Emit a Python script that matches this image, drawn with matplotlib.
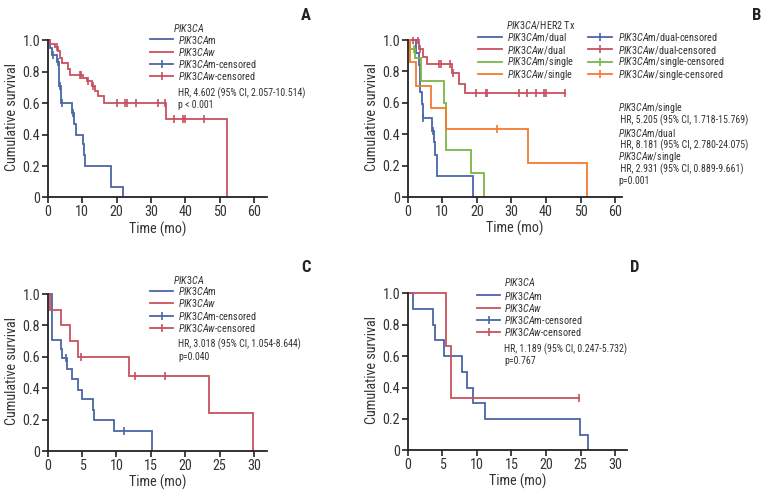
import matplotlib
matplotlib.use("Agg")
import matplotlib.pyplot as plt
from matplotlib.lines import Line2D
import numpy as np

FONT = "Roboto Condensed"
plt.rcParams["font.family"] = [FONT, "DejaVu Sans"]
plt.rcParams["mathtext.fontset"] = "custom"
plt.rcParams["mathtext.rm"] = FONT
plt.rcParams["mathtext.it"] = FONT + ":italic"

BLUE = "#4a66a8"
RED = "#c8505f"
GREEN = "#7ab648"
ORANGE = "#f47a30"
INK = "#333333"

# ---- data: event times (mo), survival after each event, censor times ----
# Panel A
a_m_t = [0.6, 1.2, 2.6, 3.4, 3.9, 7.0, 7.7, 8.2, 10.3, 10.6, 10.9, 18.3, 22.0]
a_m_s = [0.955, 0.91, 0.86, 0.71, 0.60, 0.54, 0.47, 0.40, 0.34, 0.27, 0.20, 0.07, 0.0]
a_m_c = [1.5, 3.0, 3.6, 4.1, 7.3]
a_w_t = [0.7, 2.0, 3.0, 3.5, 4.2, 6.0, 6.6, 10.3, 11.5, 12.8, 13.6, 14.5, 16.3, 34.3, 52.0]
a_w_s = [0.98, 0.96, 0.93, 0.89, 0.855, 0.82, 0.78, 0.76, 0.74, 0.71, 0.68, 0.645, 0.605, 0.50, 0.0]
a_w_c = [2.6, 9.3, 9.7, 11.8, 13.2, 20.0, 22.5, 22.9, 25.7, 32.0, 34.2, 36.8, 39.4, 39.9, 45.5]

# Panel B
b_md_t = [2.5, 3.4, 3.7, 4.0, 4.3, 7.0, 7.5, 8.0, 8.5, 18.9]
b_md_s = [0.92, 0.84, 0.67, 0.59, 0.505, 0.42, 0.35, 0.27, 0.135, 0.0]
b_md_c = [4.5, 7.4]
b_wd_t = [3.3, 4.5, 5.5, 12.7, 14.7, 16.7]
b_wd_s = [0.94, 0.89, 0.85, 0.79, 0.72, 0.66]
b_wd_c = [1.5, 3.1, 3.6, 9.2, 9.5, 12.2, 13.2, 19.8, 22.6, 23.0, 32.2, 34.4, 37.0, 39.4, 39.9, 45.5]
b_ms_t = [0.6, 2.1, 3.9, 10.6, 11.0, 18.4, 22.0]
b_ms_s = [0.94, 0.885, 0.74, 0.60, 0.30, 0.15, 0.0]
b_ms_c = [1.9]
b_ws_t = [0.7, 2.5, 6.6, 11.0, 34.7, 52.0]
b_ws_s = [0.86, 0.71, 0.57, 0.43, 0.215, 0.0]
b_ws_c = [25.8]

# Panel C
c_m_t = [0.6, 2.0, 2.1, 2.8, 3.6, 4.4, 5.0, 6.6, 6.8, 9.6, 15.2]
c_m_s = [0.71, 0.65, 0.59, 0.52, 0.46, 0.39, 0.33, 0.26, 0.195, 0.13, 0.0]
c_m_c = [2.6, 11.1]
c_w_t = [0.4, 2.0, 3.2, 4.4, 11.8, 23.5, 29.8]
c_w_s = [0.90, 0.80, 0.70, 0.60, 0.48, 0.24, 0.0]
c_w_c = [4.8, 12.7, 17.0]

# Panel D
d_m_t = [0.7, 3.7, 3.9, 5.2, 7.9, 8.6, 9.5, 11.2, 24.9, 26.1]
d_m_s = [0.9, 0.8, 0.7, 0.6, 0.5, 0.4, 0.3, 0.2, 0.1, 0.0]
d_m_c = []
d_w_t = [5.6, 6.3]
d_w_s = [0.667, 0.333]
d_w_c = [24.8]

P = r"$\it{PIK3CA}$"
W_ = r"$\it{w}$"
labels2 = [P + "m", P + W_, P + "m-censored", P + W_ + "-censored"]
labels_b1 = [P + "m/dual", P + W_ + "/dual", P + "m/single", P + W_ + "/single"]
labels_b2 = [P + "m/dual-censored", P + W_ + "/dual-censored",
             P + "m/single-censored", P + W_ + "/single-censored"]
stats_a = ["HR, 4.602 (95% CI, 2.057-10.514)", "p < 0.001"]
stats_b = [P + "m/single", " HR, 5.205 (95% CI, 1.718-15.769)",
           P + "m/dual", " HR, 8.181 (95% CI, 2.780-24.075)",
           P + W_ + "/single", " HR, 2.931 (95% CI, 0.889-9.661)", "p=0.001"]
stats_c = ["HR, 3.018 (95% CI, 1.054-8.644)", "p=0.040"]
stats_d = ["HR, 1.189 (95% CI, 0.247-5.732)", "p=0.767"]

W, H = 771, 494
LW = 1.3
FS_AX = 10.2
FS_LEG = 7.4
FS_STAT = 7.1


def fx(x):
    return x / W


def fy(y):
    return 1 - y / H


def km(ax, t, s, c, color):
    end = t[-1] if s[-1] == 0 else max(c + t)
    xs = np.array([0.0] + list(t) + [end])
    ys = np.array([1.0] + list(s) + [s[-1]])
    ax.plot(xs, ys, drawstyle="steps-post", color=color, lw=LW, solid_joinstyle="miter")
    if c:
        cx = np.array(c)
        idx = np.searchsorted(np.array(t), cx, side="right")
        cy = np.array([1.0] + list(s))[idx]
        ax.plot(cx, cy, ls="none", marker="|", ms=6, mew=1.2, color=color)


def style(ax, xmax, xticks):
    ax.set_xlim(0, xmax)
    ax.set_ylim(0, 1.02)
    ax.set_xticks(xticks)
    ax.set_yticks([0, 0.2, 0.4, 0.6, 0.8, 1.0])
    ax.set_yticklabels(["0", "0.2", "0.4", "0.6", "0.8", "1.0"])
    for sp in ("top", "right"):
        ax.spines[sp].set_visible(False)
    for sp in ("left", "bottom"):
        ax.spines[sp].set_color("#222222")
        ax.spines[sp].set_linewidth(1.3)
    ax.spines["left"].set_bounds(0, 1.0)
    ax.tick_params(direction="out", length=4, width=1.2, color="#222222",
                   labelsize=FS_AX, labelcolor=INK, pad=1.5)
    ax.set_xlabel("Time (mo)", fontsize=FS_AX, color=INK, labelpad=1.5)
    ax.set_ylabel("Cumulative survival", fontsize=FS_AX, color=INK, labelpad=2.5)


fig = plt.figure(figsize=(7.71, 4.94), dpi=100)


def add_axes(x0, x1, y0):
    # x0/x1 = pixel span of x axis, y0 = pixel row of survival 0
    h = 157 * 1.02
    return fig.add_axes([x0 / W, (H - y0) / H, (x1 - x0) / W, h / H])


def legend(x0, x1, xt, rows_y, labels, colors, censored):
    for y, lab, col, cen in zip(rows_y, labels, colors, censored):
        xm = (x0 + x1) / 2
        ln = Line2D([fx(x0), fx(xm), fx(x1)], [fy(y)] * 3, color=col, lw=LW,
                    transform=fig.transFigure)
        if cen:
            ln.set_marker("|")
            ln.set_markersize(6)
            ln.set_markeredgewidth(1.2)
            ln.set_markevery([1])
        fig.add_artist(ln)
        fig.text(fx(xt), fy(y), lab, fontsize=FS_LEG, color=INK, va="center", ha="left")


def lines(x, y0, rows, pitch):
    for i, r in enumerate(rows):
        fig.text(fx(x), fy(y0 + i * pitch), r, fontsize=FS_STAT, color=INK,
                 va="center", ha="left")


ax_a = add_axes(47.7, 267, 197.5)
ax_b = add_axes(407.7, 622, 197.0)
ax_c = add_axes(47.7, 267, 451.0)
ax_d = add_axes(407.7, 627, 450.3)

km(ax_a, a_m_t, a_m_s, a_m_c, BLUE)
km(ax_a, a_w_t, a_w_s, a_w_c, RED)
style(ax_a, 63.7, [0, 10, 20, 30, 40, 50, 60])

km(ax_b, b_md_t, b_md_s, b_md_c, BLUE)
km(ax_b, b_wd_t, b_wd_s, b_wd_c, RED)
km(ax_b, b_ms_t, b_ms_s, b_ms_c, GREEN)
km(ax_b, b_ws_t, b_ws_s, b_ws_c, ORANGE)
style(ax_b, 62.0, [0, 10, 20, 30, 40, 50, 60])

km(ax_c, c_m_t, c_m_s, c_m_c, BLUE)
km(ax_c, c_w_t, c_w_s, c_w_c, RED)
style(ax_c, 31.9, [0, 5, 10, 15, 20, 25, 30])

km(ax_d, d_m_t, d_m_s, d_m_c, BLUE)
km(ax_d, d_w_t, d_w_s, d_w_c, RED)
style(ax_d, 31.7, [0, 5, 10, 15, 20, 25, 30])

cols2 = [BLUE, RED, BLUE, RED]
cen2 = [False, False, True, True]

# Panel A legend and stats
fig.text(fx(173), fy(28), P, fontsize=FS_LEG, color=INK, va="center", ha="left")
legend(150, 173, 178, [39.5, 51.8, 64.1, 76.4], labels2, cols2, cen2)
lines(178, 93, stats_a, 12.5)

# Panel B legend and stats
fig.text(fx(506), fy(25), P + "/HER2 Tx", fontsize=FS_LEG, color=INK, va="center", ha="left")
rows_b = [37, 49.5, 62, 74.5]
legend(478, 502, 507, rows_b, labels_b1, [BLUE, RED, GREEN, ORANGE], [False] * 4)
legend(588, 612, 618, rows_b, labels_b2, [BLUE, RED, GREEN, ORANGE], [True] * 4)
lines(618, 108.3, stats_b, 12.2)

# Panel C legend and stats
fig.text(fx(173), fy(279.5), P, fontsize=FS_LEG, color=INK, va="center", ha="left")
legend(150, 173, 178, [291, 303.3, 315.6, 327.9], labels2, cols2, cen2)
lines(178, 344, stats_c, 12.5)

# Panel D legend and stats
fig.text(fx(504), fy(282), P, fontsize=FS_LEG, color=INK, va="center", ha="left")
legend(477, 500, 504, [295.5, 307.8, 320.1, 332.4], labels2, cols2, cen2)
lines(504, 349, stats_d, 12.3)

# panel letters
for lab, x, y in [("A", 306, 15), ("B", 757, 15), ("C", 306, 267), ("D", 635, 267)]:
    fig.text(fx(x), fy(y), lab, fontsize=12, fontweight="bold", ha="center", va="center",
             color="#222222")

fig.savefig("out.png", dpi=100)
plt.close(fig)
